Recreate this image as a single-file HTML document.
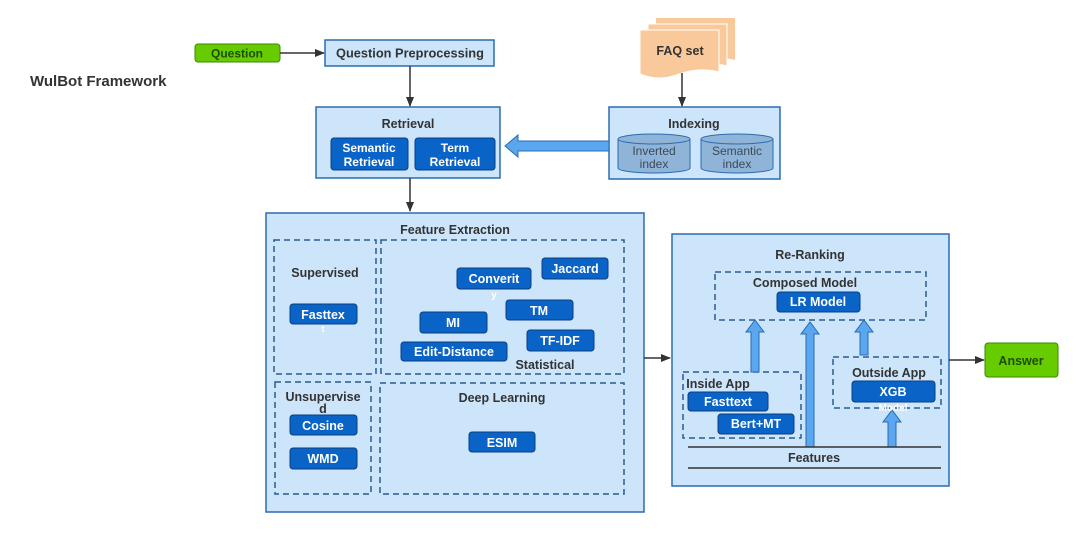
<!DOCTYPE html>
<html><head><meta charset="utf-8"><style>
body{margin:0;background:#fff;}
svg text{font-family:"Liberation Sans",sans-serif;font-weight:bold;}
</style></head><body>
<svg width="1080" height="534" viewBox="0 0 1080 534" xmlns="http://www.w3.org/2000/svg">
<defs>
<marker id="ah" markerWidth="10" markerHeight="8" refX="9" refY="4" orient="auto" markerUnits="userSpaceOnUse"><path d="M0,0 L10,4 L0,8 Z" fill="#333"/></marker>
</defs>
<text x="30" y="86" font-size="15" fill="#333">WulBot Framework</text>
<!-- Question -->
<rect x="195" y="44" width="85" height="18" rx="3" fill="#66cc00" stroke="#3a8a00"/>
<text x="237" y="57.5" font-size="12" text-anchor="middle" fill="#1d4d00">Question</text>
<line x1="280" y1="53" x2="324" y2="53" stroke="#333" stroke-width="1.5" marker-end="url(#ah)"/>
<rect x="325" y="40" width="169" height="26" fill="#cce5fb" stroke="#2b6cb0" stroke-width="1.5"/>
<text x="410" y="57.5" font-size="12.8" text-anchor="middle" fill="#333">Question Preprocessing</text>
<line x1="410" y1="66" x2="410" y2="106" stroke="#333" stroke-width="1.5" marker-end="url(#ah)"/>
<!-- FAQ -->
<g fill="#f9c89b">
<path d="M656,18 H735 V60 Q715,55 695,62 Q675,70 656,62 Z"/>
<path d="M648,24 H727 V66 Q707,61 687,68 Q667,76 648,68 Z" stroke="#fff" stroke-width="1"/>
<path d="M640,30 H719 V72 Q699,67 679,74 Q659,82 640,74 Z" stroke="#fff" stroke-width="1"/>
</g>
<text x="680" y="55" font-size="12.5" text-anchor="middle" fill="#333">FAQ set</text>
<line x1="682" y1="73" x2="682" y2="106" stroke="#333" stroke-width="1.5" marker-end="url(#ah)"/>
<!-- Retrieval -->
<rect x="316" y="107" width="184" height="71" fill="#cce5fb" stroke="#2b6cb0" stroke-width="1.5"/>
<text x="408" y="128" font-size="12.5" text-anchor="middle" fill="#333">Retrieval</text>
<rect x="331" y="138" width="77" height="32" rx="3" fill="#0a63c6" stroke="#0a3f80"/>
<text x="369" y="152" font-size="12" text-anchor="middle" fill="#fff">Semantic</text>
<text x="369" y="166" font-size="12" text-anchor="middle" fill="#fff">Retrieval</text>
<rect x="415" y="138" width="80" height="32" rx="3" fill="#0a63c6" stroke="#0a3f80"/>
<text x="455" y="152" font-size="12" text-anchor="middle" fill="#fff">Term</text>
<text x="455" y="166" font-size="12" text-anchor="middle" fill="#fff">Retrieval</text>
<!-- Indexing -->
<rect x="609" y="107" width="171" height="72" fill="#cce5fb" stroke="#2b6cb0" stroke-width="1.5"/>
<text x="694" y="128" font-size="12.5" text-anchor="middle" fill="#333">Indexing</text>
<g fill="#8fb4d8" stroke="#2b6cb0">
<path d="M618,139 V168 A36,5 0 0 0 690,168 V139"/><ellipse cx="654" cy="139" rx="36" ry="5"/>
<path d="M701,139 V168 A36,5 0 0 0 773,168 V139"/><ellipse cx="737" cy="139" rx="36" ry="5"/>
</g>
<g font-size="12" text-anchor="middle" fill="#3a4a5a">
<text x="654" y="155" style="font-weight:normal">Inverted</text><text x="654" y="168" style="font-weight:normal">index</text>
<text x="737" y="155" style="font-weight:normal">Semantic</text><text x="737" y="168" style="font-weight:normal">index</text>
</g>
<path d="M609,141 H518 V135 L505,146 L518,157 V151 H609 Z" fill="#5aa7f0" stroke="#2b6cb0"/>
<line x1="410" y1="178" x2="410" y2="211" stroke="#333" stroke-width="1.5" marker-end="url(#ah)"/>
<!-- Feature Extraction -->
<rect x="266" y="213" width="378" height="299" fill="#cce5fb" stroke="#2b6cb0" stroke-width="1.5"/>
<text x="455" y="234" font-size="12.5" text-anchor="middle" fill="#333">Feature Extraction</text>
<g fill="none" stroke="#2b5c8e" stroke-width="1.5" stroke-dasharray="6,4">
<rect x="274" y="240" width="102" height="134"/>
<rect x="381" y="240" width="243" height="134"/>
<rect x="275" y="382" width="96" height="112"/>
<rect x="380" y="383" width="244" height="111"/>
</g>
<g font-size="12.5" fill="#333" text-anchor="middle">
<text x="325" y="277">Supervised</text>
<text x="545" y="369">Statistical</text>
<text x="323" y="401">Unsupervise</text>
<text x="323" y="413">d</text>
<text x="502" y="402">Deep Learning</text>
</g>
<g fill="#0a63c6" stroke="#0a3f80">
<rect x="290" y="304" width="67" height="20" rx="3"/>
<rect x="457" y="268" width="74" height="21" rx="3"/>
<rect x="542" y="258" width="66" height="21" rx="3"/>
<rect x="506" y="300" width="67" height="20" rx="3"/>
<rect x="420" y="312" width="67" height="21" rx="3"/>
<rect x="527" y="330" width="67" height="21" rx="3"/>
<rect x="401" y="342" width="106" height="19" rx="3"/>
<rect x="290" y="415" width="67" height="20" rx="3"/>
<rect x="290" y="448" width="67" height="21" rx="3"/>
<rect x="469" y="432" width="66" height="20" rx="3"/>
</g>
<g font-size="12.5" fill="#fff" text-anchor="middle">
<text x="323" y="319">Fasttex</text><text x="323" y="332" font-size="9">t</text>
<text x="494" y="283">Converit</text><text x="494" y="298" font-size="10">y</text>
<text x="575" y="273">Jaccard</text>
<text x="539" y="315">TM</text>
<text x="453" y="327">MI</text>
<text x="560" y="345">TF-IDF</text>
<text x="454" y="356">Edit-Distance</text>
<text x="323" y="430">Cosine</text>
<text x="323" y="463">WMD</text>
<text x="502" y="447">ESIM</text>
</g>
<line x1="644" y1="358" x2="670" y2="358" stroke="#333" stroke-width="1.5" marker-end="url(#ah)"/>
<!-- Re-Ranking -->
<rect x="672" y="234" width="277" height="252" fill="#cce5fb" stroke="#2b6cb0" stroke-width="1.5"/>
<text x="810" y="259" font-size="12.5" text-anchor="middle" fill="#333">Re-Ranking</text>
<g fill="none" stroke="#2b5c8e" stroke-width="1.5" stroke-dasharray="6,4">
<rect x="715" y="272" width="211" height="48"/>
<rect x="683" y="372" width="118" height="66"/>
<rect x="833" y="357" width="108" height="51"/>
</g>
<g font-size="12.5" fill="#333" text-anchor="middle">
<text x="805" y="287">Composed Model</text>
<text x="718" y="388">Inside App</text>
<text x="889" y="377">Outside App</text>
<text x="814" y="462">Features</text>
</g>
<g fill="#5aa7f0" stroke="#2b6cb0">
<path d="M751,372 V332 H746 L755,320 L764,332 H759 V372 Z"/>
<path d="M806,447 V334 H801 L810,322 L819,334 H814 V447 Z"/>
<path d="M860,355 V332 H855 L864,320 L873,332 H868 V355 Z"/>
<path d="M888,447 V422 H883 L892,410 L901,422 H896 V447 Z"/>
</g>
<g fill="#0a63c6" stroke="#0a3f80">
<rect x="777" y="292" width="83" height="20" rx="3"/>
<rect x="688" y="392" width="80" height="19" rx="3"/>
<rect x="718" y="414" width="76" height="20" rx="3"/>
<rect x="852" y="381" width="83" height="21" rx="3"/>
</g>
<g font-size="12.5" fill="#fff" text-anchor="middle">
<text x="818" y="306">LR Model</text>
<text x="728" y="406">Fasttext</text>
<text x="756" y="428">Bert+MT</text>
<text x="893" y="396">XGB</text>
<text x="893" y="411" font-size="10">Model</text>
</g>
<line x1="688" y1="447" x2="941" y2="447" stroke="#333" stroke-width="1.5"/>
<line x1="688" y1="468" x2="941" y2="468" stroke="#333" stroke-width="1.5"/>
<line x1="949" y1="360" x2="984" y2="360" stroke="#333" stroke-width="1.5" marker-end="url(#ah)"/>
<rect x="985" y="343" width="73" height="34" rx="3" fill="#66cc00" stroke="#3a8a00"/>
<text x="1021" y="365" font-size="12.5" text-anchor="middle" fill="#1d4d00">Answer</text>
</svg>
</body></html>
